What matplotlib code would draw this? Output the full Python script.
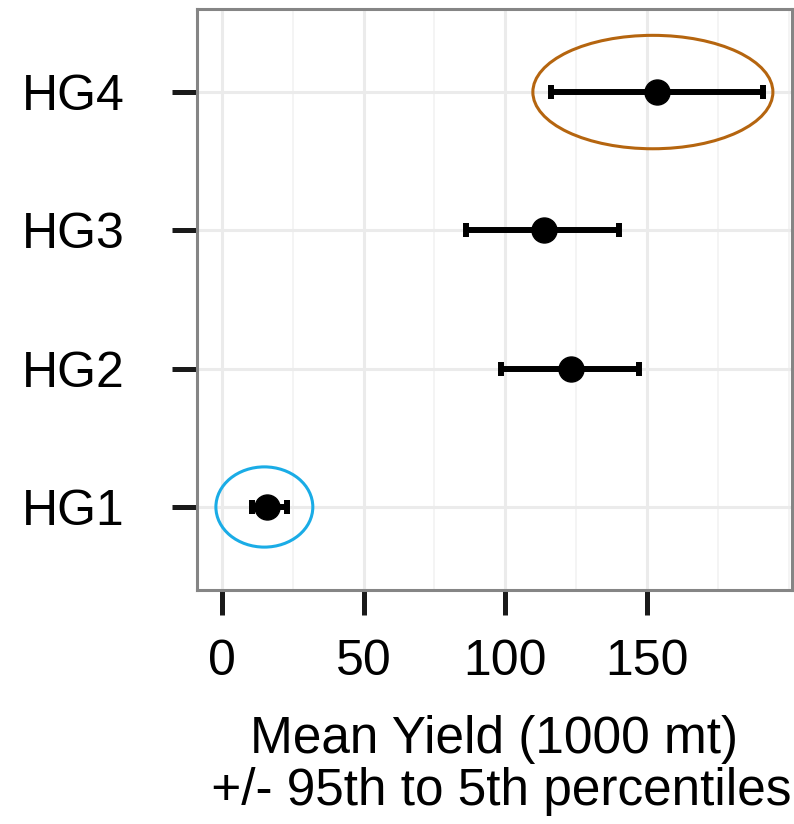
import matplotlib
matplotlib.use("Agg")
import matplotlib.pyplot as plt
from matplotlib.patches import Ellipse
from matplotlib.ticker import MultipleLocator

plt.rcParams["font.family"] = ["Liberation Sans", "DejaVu Sans"]

groups = ["HG1", "HG2", "HG3", "HG4"]
mean_yield = [16.0, 123.2, 113.7, 153.4]
p05 = [10.5, 98.4, 86.1, 116.0]
p95 = [23.0, 147.3, 140.2, 191.0]

# highlighted groups: (group index, x centre, width, height, colour)
highlights = [
    (3, 152.1, 84.7, 0.82, "#B5650F"),
    (0, 15.0, 34.2, 0.58, "#1AACE6"),
]

fig = plt.figure(figsize=(7.94, 8.24), dpi=100)
ax = fig.add_axes([0.248, 0.284, 0.7495, 0.705])

ypos = list(range(1, len(groups) + 1))
xerr = [[m - lo for m, lo in zip(mean_yield, p05)], [hi - m for m, hi in zip(mean_yield, p95)]]
ax.errorbar(mean_yield, ypos, xerr=xerr, fmt="o", color="black", ms=18,
            elinewidth=4.3, capsize=4.8, capthick=4.3, zorder=3)

for idx, cx, w, h, col in highlights:
    ax.add_patch(Ellipse((cx, ypos[idx]), w, h, fill=False, edgecolor=col, lw=2.2, zorder=4))

ax.set_xlim(-8.8, 201.2)
ax.set_ylim(0.4, 4.6)
ax.set_yticks(ypos)
ax.set_yticklabels(groups)
ax.xaxis.set_major_locator(MultipleLocator(50))
ax.xaxis.set_minor_locator(MultipleLocator(25))
ax.set_xticks([0, 50, 100, 150])

ax.grid(True, which="major", color="#EBEBEB", lw=2.2, zorder=0)
ax.grid(True, which="minor", axis="x", color="#F2F2F2", lw=1.2, zorder=0)
ax.set_axisbelow(True)

for s in ax.spines.values():
    s.set_color("#858585")
    s.set_linewidth(2.2)

ax.tick_params(axis="both", which="major", length=18, width=3.6, color="#1A1A1A",
               labelsize=36)
ax.tick_params(axis="x", which="minor", length=0)
ax.tick_params(axis="x", pad=17)
ax.tick_params(axis="y", pad=34)

ax.set_xlabel("Mean Yield (1000 mt)\n +/- 95th to 5th percentiles", fontsize=37,
              linespacing=1.07, labelpad=22)

fig.savefig("out.png", dpi=100)
